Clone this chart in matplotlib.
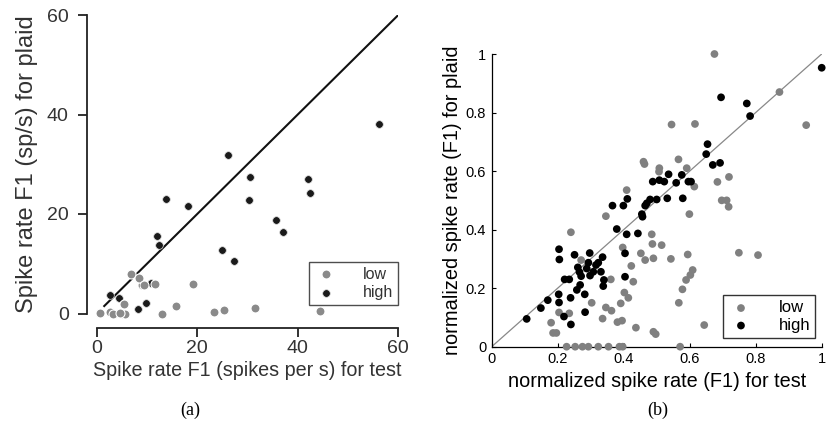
import matplotlib
matplotlib.use("Agg")
import matplotlib.pyplot as plt
import numpy as np

plt.rcParams['font.family'] = ['Liberation Sans', 'DejaVu Sans']

# ---------------- panel (a) data ----------------
a_low_x = [6.8, 8.5, 9.4, 11.5, 19.1, 5.5, 15.8, 13.0, 0.7, 2.6, 3.3, 5.2, 5.6, 4.6,
           23.4, 25.3, 31.4, 44.4]
a_low_y = [7.9, 7.1, 5.7, 5.9, 5.9, 2.0, 1.6, 0.0, 0.2, 0.3, 0.0, 0.0, 0.0, 0.1,
           0.3, 0.8, 1.2, 0.5]
a_high_x = [56.2, 26.1, 30.4, 42.1, 42.4, 30.2, 13.8, 18.1, 35.6, 37.1, 11.9, 12.3,
            24.9, 27.4, 2.6, 4.5, 9.9, 8.3, 9.0, 10.9]
a_high_y = [38.1, 31.9, 27.4, 27.1, 24.3, 22.9, 23.1, 21.7, 18.8, 16.4, 15.6, 13.7,
            12.8, 10.5, 3.8, 3.2, 2.2, 0.9, 5.8, 6.2]
a_diag = [1.5, 60]
a_ticks = [0, 20, 40, 60]

# ---------------- panel (b) data ----------------
b_high_x = [1.000, 0.695, 0.773, 0.783, 0.654, 0.650, 0.670, 0.692, 0.536, 0.576,
            0.488, 0.508, 0.523, 0.559, 0.596, 0.604, 0.411, 0.480, 0.500, 0.532,
            0.579, 0.465, 0.470, 0.455, 0.457, 0.366, 0.399, 0.379, 0.409, 0.443,
            0.404, 0.404, 0.340, 0.338, 0.204, 0.205, 0.251, 0.297, 0.336, 0.221,
            0.235, 0.261, 0.266, 0.258, 0.268, 0.271, 0.293, 0.308, 0.316, 0.323,
            0.331, 0.288, 0.298, 0.203, 0.204, 0.219, 0.240, 0.239, 0.283, 0.282,
            0.170, 0.149, 0.106]
b_high_y = [0.953, 0.852, 0.831, 0.788, 0.692, 0.658, 0.621, 0.628, 0.589, 0.587,
            0.564, 0.569, 0.564, 0.560, 0.564, 0.564, 0.505, 0.503, 0.503, 0.507,
            0.507, 0.482, 0.490, 0.453, 0.444, 0.482, 0.482, 0.402, 0.384, 0.387,
            0.319, 0.239, 0.228, 0.207, 0.333, 0.298, 0.314, 0.320, 0.306, 0.230,
            0.230, 0.271, 0.255, 0.194, 0.211, 0.241, 0.287, 0.256, 0.279, 0.287,
            0.256, 0.267, 0.243, 0.179, 0.151, 0.103, 0.076, 0.167, 0.118, 0.179,
            0.159, 0.132, 0.095]
b_low_x = [0.675, 0.872, 0.953, 0.545, 0.616, 0.460, 0.463, 0.566, 0.508, 0.507,
           0.591, 0.614, 0.684, 0.719, 0.697, 0.712, 0.718, 0.599, 0.409, 0.346,
           0.240, 0.397, 0.452, 0.465, 0.490, 0.485, 0.487, 0.515, 0.543, 0.594,
           0.609, 0.602, 0.589, 0.578, 0.567, 0.749, 0.807, 0.644, 0.423, 0.429,
           0.361, 0.303, 0.346, 0.363, 0.336, 0.391, 0.402, 0.414, 0.381, 0.395,
           0.437, 0.490, 0.497, 0.271, 0.204, 0.235, 0.180, 0.186, 0.196,
           0.227, 0.253, 0.275, 0.293, 0.323, 0.354, 0.387, 0.397, 0.571]
b_low_y = [1.000, 0.870, 0.757, 0.759, 0.761, 0.632, 0.624, 0.640, 0.610, 0.598,
           0.610, 0.547, 0.563, 0.580, 0.500, 0.500, 0.478, 0.453, 0.535, 0.446,
           0.391, 0.339, 0.319, 0.296, 0.302, 0.384, 0.351, 0.347, 0.300, 0.315,
           0.262, 0.245, 0.228, 0.196, 0.150, 0.321, 0.313, 0.074, 0.276, 0.222,
           0.230, 0.150, 0.134, 0.123, 0.096, 0.148, 0.185, 0.167, 0.084, 0.089,
           0.065, 0.051, 0.043, 0.296, 0.117, 0.114, 0.082, 0.047, 0.047,
           0.0, 0.0, 0.0, 0.0, 0.0, 0.0, 0.0, 0.0, 0.0]
b_diag = [0, 1]
b_ticks = [0, 0.2, 0.4, 0.6, 0.8, 1]
b_ticklabels = ["0", "0.2", "0.4", "0.6", "0.8", "1"]

W, H = 826, 434
fig = plt.figure(figsize=(W / 100, H / 100), dpi=100)

def px_axes(x0, y_top, x1, y_bot):
    return fig.add_axes([x0 / W, 1 - y_bot / H, (x1 - x0) / W, (y_bot - y_top) / H])

# ---------------- panel (a) ----------------
ax = px_axes(96.7, 15, 398.3, 313.5)
ax.set_xlim(0, 60)
ax.set_ylim(0, 60)
ax.plot(a_diag, a_diag, color='#111111', lw=1.5, zorder=2)
ax.scatter(a_high_x, a_high_y, s=30, c='#1a1a1a', edgecolors='#dddddd',
           linewidths=0.5, zorder=3, clip_on=False, label='high')
ax.scatter(a_low_x, a_low_y, s=42, c='#8a8a8a', edgecolors='white',
           linewidths=0.8, zorder=4, clip_on=False, label='low')
for s in ['top', 'right']:
    ax.spines[s].set_visible(False)
ax.spines['left'].set_position(('outward', 6.7))
ax.spines['bottom'].set_position(('outward', 10.5))
ax.spines['left'].set_bounds(0, 60)
ax.spines['bottom'].set_bounds(0, 60)
for s in ['left', 'bottom']:
    ax.spines[s].set_linewidth(1.3)
    ax.spines[s].set_color('#222222')
ax.set_xticks(a_ticks)
ax.set_yticks(a_ticks)
ax.tick_params(direction='out', length=6.5, width=1.3, color='#222222',
               labelsize=14, labelcolor='#333333')
ax.tick_params(axis='x', pad=2)
ax.tick_params(axis='y', pad=7)
ax.set_xlabel('Spike rate F1 (spikes per s) for test', fontsize=14.2,
              color='#333333', labelpad=3)
ax.set_ylabel('Spike rate F1 (sp/s) for plaid', fontsize=17,
              color='#333333', labelpad=6)
h, l = ax.get_legend_handles_labels()
leg = ax.legend(h[::-1], l[::-1], loc='lower right', bbox_to_anchor=(1.0, 0.03),
                fontsize=11.5, frameon=True, fancybox=False, handletextpad=1.6,
                borderpad=0.3, labelspacing=0.2, markerscale=1.0, handlelength=1.5,
                borderaxespad=0.0)
leg.get_frame().set_edgecolor('#222222')
leg.get_frame().set_linewidth(1.0)
for t in leg.get_texts():
    t.set_color('#333333')

# ---------------- panel (b) ----------------
bx = px_axes(491.7, 54, 821.7, 346.7)
bx.set_xlim(0, 1)
bx.set_ylim(0, 1)
bx.plot(b_diag, b_diag, color='#888888', lw=0.9, zorder=2)
bx.scatter(b_low_x, b_low_y, s=31, c='#808080', edgecolors='none', zorder=3,
           clip_on=False, label='low')
bx.scatter(b_high_x, b_high_y, s=31, c='black', edgecolors='none', zorder=4,
           clip_on=False, label='high')
for s in ['top', 'right']:
    bx.spines[s].set_visible(False)
for s in ['left', 'bottom']:
    bx.spines[s].set_linewidth(0.9)
bx.set_xticks(b_ticks)
bx.set_xticklabels(b_ticklabels)
bx.set_yticks(b_ticks)
bx.set_yticklabels(b_ticklabels)
bx.tick_params(direction='in', length=3, width=0.8, labelsize=10.5, pad=4)
bx.set_xlabel('normalized spike rate (F1) for test', fontsize=14.3, labelpad=4)
bx.set_ylabel('normalized spike rate (F1) for plaid', fontsize=14.4, labelpad=3)
leg2 = bx.legend(loc='lower right', bbox_to_anchor=(0.98, 0.03), fontsize=12,
                 frameon=True, fancybox=False, handletextpad=1.5, borderpad=0.3,
                 labelspacing=0.15, handlelength=1.5, borderaxespad=0.0)
leg2.get_frame().set_edgecolor('black')
leg2.get_frame().set_linewidth(1.0)

# captions
fig.text(190 / W, 1 - 410 / H, '(a)', ha='center', va='center', fontsize=13,
         family=['Liberation Serif', 'DejaVu Serif'])
fig.text(658 / W, 1 - 410 / H, '(b)', ha='center', va='center', fontsize=13,
         family=['Liberation Serif', 'DejaVu Serif'])

fig.savefig('out.png', dpi=100)
